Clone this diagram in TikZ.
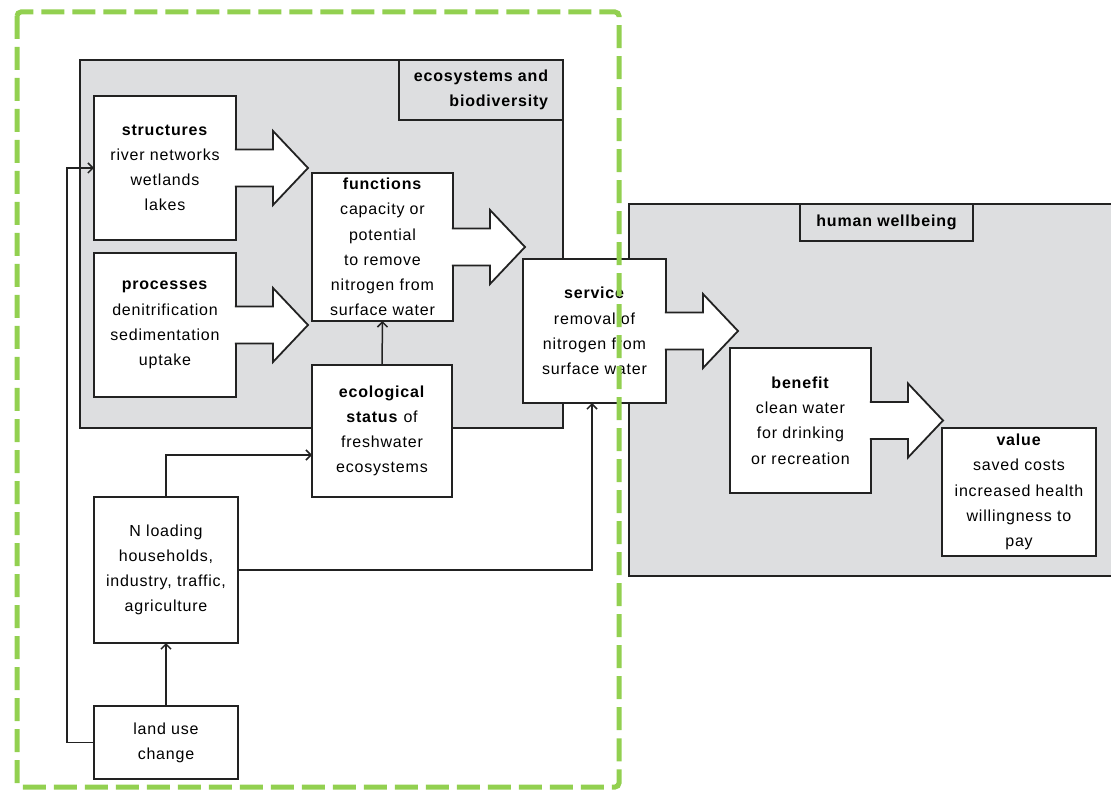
\documentclass[tikz,border=0pt]{standalone}
\usepackage{fontspec}
\setmainfont{Liberation Sans}[LetterSpace=5]
\usetikzlibrary{arrows.meta}
\definecolor{panelgray}{HTML}{DDDEE0}
\definecolor{dashgreen}{HTML}{92D050}
\definecolor{ink}{HTML}{222222}
\newcommand\diagfont{\fontsize{16}{25.2}\selectfont}
\newcommand\fatarrow[1]{%
  \filldraw[fill=white, draw=ink, line width=1.8pt, line join=miter]
    ([shift={(-1.2,-18.5)}]#1.east) -- ++(38.2,0) -- ++(0,-18.5) -- ++(35,37)
    -- ++(-35,37) -- ++(0,-18.5) -- ++(-38.2,0);}
\begin{document}
\begin{tikzpicture}[x=1pt,y=-1pt,
  panel/.style={draw=ink, line width=1.8pt, fill=panelgray},
  labelbox/.style={draw=ink, line width=1.8pt, fill=panelgray, inner sep=0pt, font=\diagfont\bfseries},
  box/.style={draw=ink, line width=1.8pt, fill=white, align=center, inner sep=0pt, outer sep=0pt, font=\diagfont},
  conn/.style={draw=ink, line width=1.5pt, -{Straight Barb[length=5pt,width=10pt]}},
  greenframe/.style={draw=dashgreen, line width=5pt, dash pattern=on 23pt off 8pt, rounded corners=4pt}
]
\useasboundingbox (0,0) rectangle (1111,791);

% panels
\draw[panel] (80,60) rectangle (563,428);
\draw[panel] (629,204) rectangle (1114,576);
\node[labelbox, minimum width=164, minimum height=60, align=right] (ecolab) at (481,90) {ecosystems and\\biodiversity};
\node[labelbox, minimum width=173, minimum height=37] (hwlab) at (886.5,222.5) {human wellbeing};

% boxes
\node[box, minimum width=142, minimum height=144] (st) at (165,168) {\textbf{structures}\\river networks\\wetlands\\lakes};
\node[box, minimum width=142, minimum height=144] (pr) at (165,325) {\textbf{processes}\\denitrification\\sedimentation\\uptake};
\node[box, minimum width=141, minimum height=148] (fu) at (382.5,247) {\textbf{functions}\\capacity or\\potential\\to remove\\nitrogen from\\surface water};
\node[box, minimum width=140, minimum height=132] (ec) at (382,431) {\textbf{ecological}\\\textbf{status} of\\freshwater\\ecosystems};
\node[box, minimum width=144, minimum height=146] (nl) at (166,570) {N loading\\households,\\industry, traffic,\\agriculture};
\node[box, minimum width=144, minimum height=73] (lu) at (166,742.5) {land use\\change};
\node[box, minimum width=141, minimum height=145] (be) at (800.5,420.5) {\textbf{benefit}\\clean water\\for drinking\\or recreation};
\node[box, minimum width=154, minimum height=128] (va) at (1019,492) {\textbf{value}\\saved costs\\increased health\\willingness to\\pay};

% fat arrows
\fatarrow{st}
\fatarrow{pr}
\fatarrow{fu}

% service box (on top of both panels)
\node[box, minimum width=143, minimum height=144] (se) at (594.5,331) {\textbf{service}\\removal of\\nitrogen from\\surface water};
\fatarrow{se}
\fatarrow{be}

% connectors
\draw[conn] (ec.north) -- (fu.south);
\draw[conn] (lu.north) -- (nl.south);
\draw[conn] (nl.north) |- ([yshift=-24pt]ec.west);
\draw[conn] (nl.east) -| ([xshift=-2.5pt]se.south);
\draw[conn] (lu.west) -- ++(-27,0) |- (st.west);

% green dashed frame
\draw[greenframe] (17,12) rectangle (619,787);
\end{tikzpicture}
\end{document}
